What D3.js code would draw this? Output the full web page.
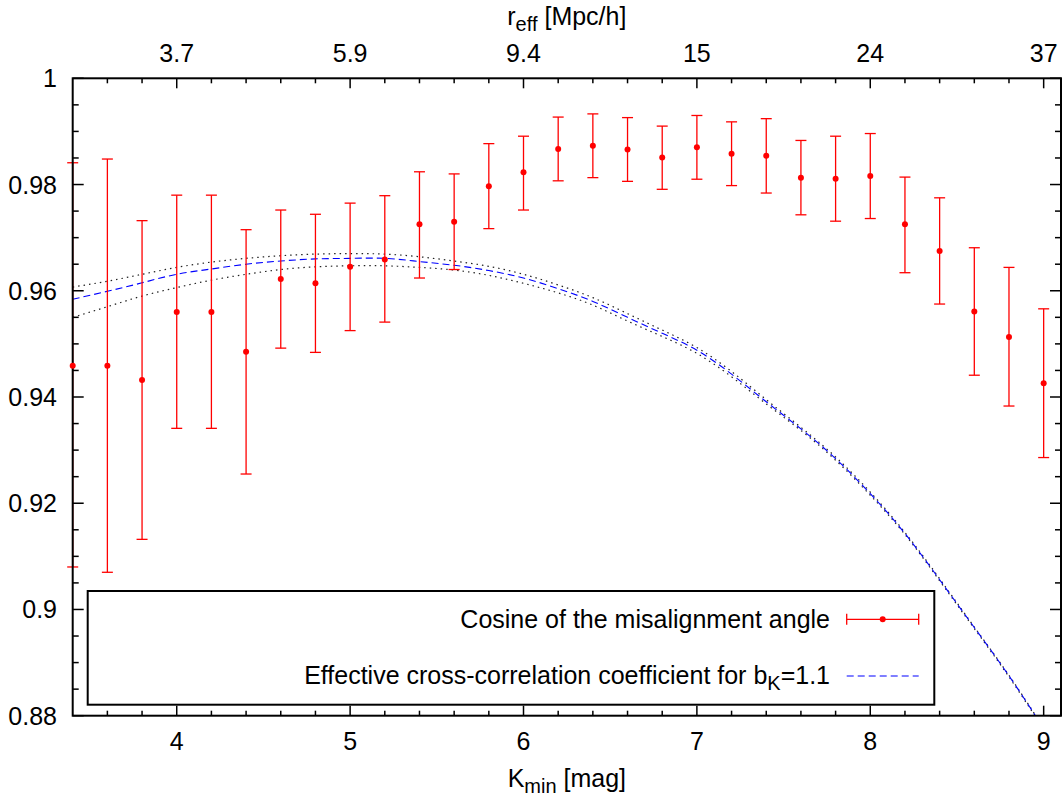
<!DOCTYPE html>
<html><head><meta charset="utf-8">
<script src="https://cdn.jsdelivr.net/npm/d3@7"></script>
<style>
body{margin:0;background:#fff}
text{font-family:"Liberation Sans",Arial,Helvetica,sans-serif;fill:#000}
</style>
</head><body><svg id="c" width="1063" height="798"></svg>
<script>
// ---- data ----
const kMin   = [3.4,3.6,3.8,4.0,4.2,4.4,4.6,4.8,5.0,5.2,5.4,5.6,5.8,6.0,6.2,6.4,6.6,6.8,7.0,7.2,7.4,7.6,7.8,8.0,8.2,8.4,8.6,8.8,9.0];
const cosVal = [0.9459,0.9459,0.9432,0.9560,0.9560,0.9485,0.9622,0.9614,0.9645,0.9659,0.9725,0.9730,0.9797,0.9823,0.9867,0.9873,0.9866,0.9851,0.9870,0.9858,0.9854,0.9813,0.9811,0.9816,0.9725,0.9675,0.9561,0.9513,0.9426];
const cosLo  = [0.9080,0.9070,0.9132,0.9341,0.9341,0.9255,0.9492,0.9484,0.9525,0.9541,0.9624,0.9640,0.9717,0.9752,0.9807,0.9813,0.9806,0.9791,0.9810,0.9798,0.9784,0.9743,0.9731,0.9736,0.9634,0.9575,0.9441,0.9383,0.9286];
const cosHi  = [0.9841,0.9848,0.9732,0.9780,0.9780,0.9715,0.9752,0.9744,0.9765,0.9779,0.9824,0.9820,0.9877,0.9891,0.9927,0.9933,0.9926,0.9910,0.9930,0.9918,0.9924,0.9883,0.9891,0.9896,0.9814,0.9775,0.9681,0.9644,0.9566];

const curveK   = [3.4,3.6,3.8,4.0,4.2,4.4,4.6,4.8,5.0,5.2,5.4,5.6,5.8,6.0,6.2,6.4,6.6,6.8,7.0,7.2,7.4,7.6,7.8,8.0,8.2,8.4,8.6,8.8,9.0];
const curveMid = [0.9584,0.9599,0.9615,0.9631,0.9641,0.9650,0.9656,0.9660,0.9661,0.9661,0.9655,0.9648,0.9638,0.9624,0.9604,0.9580,0.9550,0.9520,0.9488,0.9443,0.9391,0.9340,0.9284,0.9218,0.9143,0.9056,0.8966,0.8875,0.8776];
const curveUp  = [0.9607,0.9618,0.9631,0.9644,0.9654,0.9661,0.9666,0.9669,0.9670,0.9669,0.9664,0.9656,0.9646,0.9631,0.9611,0.9587,0.9557,0.9526,0.9493,0.9448,0.9395,0.9343,0.9287,0.9221,0.9145,0.9058,0.8967,0.8876,0.8777];
const curveLow = [0.9550,0.9570,0.9590,0.9606,0.9620,0.9631,0.9640,0.9645,0.9647,0.9647,0.9644,0.9639,0.9629,0.9614,0.9596,0.9573,0.9543,0.9514,0.9482,0.9438,0.9387,0.9337,0.9281,0.9215,0.9141,0.9054,0.8964,0.8873,0.8774];

const xMajor = [4,5,6,7,8,9];
const xLabels = ["4","5","6","7","8","9"];
const topLabels = ["3.7","5.9","9.4","15","24","37"];
const yMajor = [0.88,0.90,0.92,0.94,0.96,0.98,1.00];
const yLabels = ["0.88","0.9","0.92","0.94","0.96","0.98","1"];
const legendNames = ["Cosine of the misalignment angle","Effective cross-correlation coefficient for b"];

// ---- layout ----
const L=72.7, R=1061, T=78.3, B=715.7;
const x = d3.scaleLinear().domain([3.4,9.1]).range([L,R]);
const y = d3.scaleLinear().domain([0.88,1.0]).range([B,T]);
const svg = d3.select("#c");
const FS = 25;

svg.append("clipPath").attr("id","clip").append("rect")
  .attr("x",L).attr("y",T).attr("width",R-L).attr("height",B-T);

// curves
const line = (ys)=> d3.line().x((d,i)=>x(curveK[i])).y((d,i)=>y(ys[i])).curve(d3.curveNatural)(ys);
const gc = svg.append("g").attr("clip-path","url(#clip)");
[curveUp,curveLow].forEach(a=>{
  gc.append("path").attr("d",line(a)).attr("fill","none").attr("stroke","#222")
    .attr("stroke-width",1.2).attr("stroke-dasharray","1.5,4");
});
gc.append("path").attr("d",line(curveMid)).attr("fill","none").attr("stroke","#0000ff")
  .attr("stroke-width",1.1).attr("stroke-dasharray","7,4");

// error bars
const eb = svg.append("g").attr("stroke","#ff0000").attr("stroke-width",1.3);
kMin.forEach((k,i)=>{
  const cx = x(k);
  eb.append("line").attr("x1",cx).attr("x2",cx).attr("y1",y(cosLo[i])).attr("y2",y(cosHi[i]));
  eb.append("line").attr("x1",cx-5.5).attr("x2",cx+5.5).attr("y1",y(cosLo[i])).attr("y2",y(cosLo[i]));
  eb.append("line").attr("x1",cx-5.5).attr("x2",cx+5.5).attr("y1",y(cosHi[i])).attr("y2",y(cosHi[i]));
});

// frame + ticks
const ax = svg.append("g").attr("stroke","#000");
const xMinor = d3.range(3.6,9.05,0.2).map(v=>+v.toFixed(1)).filter(v=>!xMajor.includes(v));
const yMinor = d3.range(0.885,1.0,0.005).map(v=>+v.toFixed(3)).filter(v=>!yMajor.some(m=>Math.abs(m-v)<1e-6));
xMajor.forEach(v=>{
  ax.append("line").attr("x1",x(v)).attr("x2",x(v)).attr("y1",B).attr("y2",B-10).attr("stroke-width",1.5);
  ax.append("line").attr("x1",x(v)).attr("x2",x(v)).attr("y1",T).attr("y2",T+10).attr("stroke-width",1.5);
});
xMinor.forEach(v=>{
  ax.append("line").attr("x1",x(v)).attr("x2",x(v)).attr("y1",B).attr("y2",B-5).attr("stroke-width",1.5);
  ax.append("line").attr("x1",x(v)).attr("x2",x(v)).attr("y1",T).attr("y2",T+5).attr("stroke-width",1.5);
});
yMajor.forEach(v=>{
  ax.append("line").attr("x1",L).attr("x2",L+11).attr("y1",y(v)).attr("y2",y(v)).attr("stroke-width",1.5);
  ax.append("line").attr("x1",R).attr("x2",R-11).attr("y1",y(v)).attr("y2",y(v)).attr("stroke-width",1.5);
});
yMinor.forEach(v=>{
  ax.append("line").attr("x1",L).attr("x2",L+6).attr("y1",y(v)).attr("y2",y(v)).attr("stroke-width",1.5);
  ax.append("line").attr("x1",R).attr("x2",R-6).attr("y1",y(v)).attr("y2",y(v)).attr("stroke-width",1.5);
});
ax.append("rect").attr("x",L).attr("y",T).attr("width",R-L).attr("height",B-T)
  .attr("fill","none").attr("stroke-width",2);

// dots (drawn over the frame)
svg.append("g").selectAll("circle").data(kMin).join("circle")
  .attr("cx",d=>x(d)).attr("cy",(d,i)=>y(cosVal[i])).attr("r",3).attr("fill","#ff0000");

// tick labels
const tl = svg.append("g").attr("font-size",FS);
xMajor.forEach((v,i)=>{
  tl.append("text").attr("x",x(v)).attr("y",750).attr("text-anchor","middle").text(xLabels[i]);
  tl.append("text").attr("x",x(v)).attr("y",61.5).attr("text-anchor","middle").text(topLabels[i]);
});
yMajor.forEach((v,i)=>{
  tl.append("text").attr("x",57).attr("y",y(v)+9).attr("text-anchor","end").text(yLabels[i]);
});

// axis titles
const xt = svg.append("text").attr("x",(L+R)/2).attr("y",786.5).attr("text-anchor","middle").attr("font-size",FS);
xt.append("tspan").text("K");
xt.append("tspan").attr("font-size",20).attr("dy",6).text("min");
xt.append("tspan").attr("dy",-6).text(" [mag]");
const tt = svg.append("text").attr("x",(L+R)/2).attr("y",25).attr("text-anchor","middle").attr("font-size",FS);
tt.append("tspan").text("r");
tt.append("tspan").attr("font-size",20).attr("dy",6).text("eff");
tt.append("tspan").attr("dy",-6).text(" [Mpc/h]");

// legend
const lg = svg.append("g");
lg.append("rect").attr("x",87.7).attr("y",591).attr("width",846.6).attr("height",113.7)
  .attr("fill","#fff").attr("stroke","#000").attr("stroke-width",2);
const l1 = lg.append("text").attr("x",830).attr("y",627.5).attr("text-anchor","end").attr("font-size",FS).text(legendNames[0]);
const l2 = lg.append("text").attr("x",830).attr("y",684).attr("text-anchor","end").attr("font-size",FS);
l2.append("tspan").text(legendNames[1]);
l2.append("tspan").attr("font-size",20).attr("dy",6).text("K");
l2.append("tspan").attr("dy",-6).text("=1.1");
const sx1=846.7, sx2=918.7, sy1=619.3, sy2=676;
const lgE = lg.append("g").attr("stroke","#ff0000").attr("stroke-width",1.3);
lgE.append("line").attr("x1",sx1).attr("x2",sx2).attr("y1",sy1).attr("y2",sy1);
lgE.append("line").attr("x1",sx1).attr("x2",sx1).attr("y1",sy1-5.5).attr("y2",sy1+5.5);
lgE.append("line").attr("x1",sx2).attr("x2",sx2).attr("y1",sy1-5.5).attr("y2",sy1+5.5);
lg.append("circle").attr("cx",(sx1+sx2)/2).attr("cy",sy1).attr("r",3).attr("fill","#ff0000");
lg.append("line").attr("x1",sx1).attr("x2",sx2).attr("y1",sy2).attr("y2",sy2)
  .attr("stroke","#0000ff").attr("stroke-width",1.1).attr("stroke-dasharray","7,4");
</script>
</body></html>
